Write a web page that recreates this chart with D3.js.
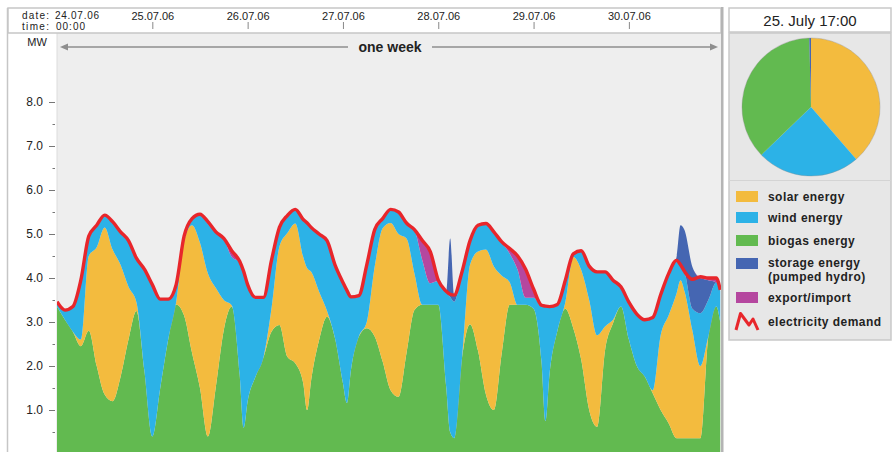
<!DOCTYPE html>
<html>
<head>
<meta charset="utf-8">
<script src="https://cdn.jsdelivr.net/npm/d3@7"></script>
<style>
  body { margin: 0; background: #fff; }
  svg { display: block; font-family: "Liberation Sans", Arial, Helvetica, sans-serif; }
</style>
</head>
<body>
<svg id="chart" width="894" height="452"></svg>
<script>
// Hours since 24.07.06 00:00 (one row per day)
const hours = [
  0,2,4,6,8,10,12,14,16,18,20,22,
  24,26,28,30,32,34,36,38,40,42,44,46,47,
  48,50,52,54,56,58,60,62,63,64,66,68,70,
  72,73,74,76,78,80,82,84,86,88,90,92,94,
  96,98,99,100,102,104,106,108,110,112,114,116,118,
  120,122,123,124,126,128,130,132,134,136,138,140,142,
  144,146,148,150,152,154,156,157,158,160,162,164,166,167];

// Generation in MW, stacked bottom to top
const biogas = [
  3.35,3.05,2.78,2.45,2.8,2.0,1.35,1.2,1.75,2.6,3.25,1.9,
  0.4,1.5,2.6,3.4,3.15,2.3,1.5,0.4,1.53,2.82,3.35,1.8,0.6,
  1.2,1.76,2.2,2.78,2.93,2.21,2.06,1.61,1.0,1.68,2.59,3.12,2.63,
  1.61,1.16,1.9,2.67,2.86,2.67,2.1,1.45,1.3,2.29,3.27,3.39,3.39,
  3.39,1.53,0.5,0.36,2.2,2.95,2.35,1.35,1.0,2.3,3.39,3.39,3.39,
  3.3,2.1,0.75,1.8,2.8,3.3,2.86,2.14,1.0,0.62,2.36,2.97,3.35,
  2.6,2.0,1.76,1.38,1.0,0.7,0.36,0.36,0.36,0.36,0.36,2.67,3.35,3.0];
const solar = [
  0,0,0,0.15,1.7,2.7,3.8,3.45,2.55,1.2,0.2,0,
  0,0,0,0.05,1.7,2.9,3.3,3.7,2.24,0.68,0.03,0,0,
  0,0,0,0.52,1.78,2.81,3.18,2.87,3.22,2.46,1.1,0.13,0,
  0,0,0,0,0.14,1.59,3.03,3.8,3.7,2.61,0.83,0,0,
  0,0,0,0,0,1.35,2.25,3.3,3.26,1.75,0.51,0,0,
  0,0,0,0,0,0.15,1.62,2.04,2.5,2.08,0.54,0.08,0,
  0,0,0,0.07,1.7,2.45,3.29,3.59,3.34,2.44,1.64,0,0,0];
const wind = [
  0.09,0.2,0.55,1.33,0.43,0.48,0.26,0.61,0.73,1.03,0.98,2.28,
  3.43,2.0,0.9,0.38,0.08,0.13,0.63,1.12,1.26,1.38,1.1,2.56,3.53,
  2.63,1.78,1.34,1.08,0.42,0.38,0.3,0.83,1.01,0.99,1.29,1.58,1.65,
  2.27,2.54,1.65,0.91,1.28,0.82,0.2,0.29,0.48,0.33,0.98,1.01,0.49,
  0.54,2.15,3.07,3.1,1.93,0.53,0.58,0.57,0.77,0.75,0.65,0.79,0.16,
  0.25,1.26,2.59,1.53,0.58,0.48,0.05,0.42,0.75,1.42,1.22,0.88,0.43,
  0.83,1.16,1.27,1.63,0.9,0.93,0.73,0.33,0.44,0.5,1.2,0.83,0.55,0.71];
const storage = [
  0,0,0,0,0,0,0,0,0,0,0,0,
  0,0,0,0,0,0,0,0.06,0,0,0,0,0,
  0,0,0,0,0,0,0,0,0,0,0,0,0,
  0,0,0,0,0,0,0,0,0,0,0,0,0,
  0,0,1.33,0.15,0,0,0,0,0,0,0,0,0,
  0,0,0,0,0,0,0,0,0,0,0,0,0,
  0,0,0,0,0,0,0.1,0.92,0.95,0.95,0.8,0.45,0,0];
const exportImport = [
  0,0,0,0,0,0,0,0,0,0,0,0,
  0,0,0,0,0,0,0,0,0,0,0.12,0,0,
  0,0,0,0,0,0,0,0,0,0,0,0,0,
  0,0,0,0,0,0,0,0,0,0,0,0.45,0.7,
  0,0,0,0,0,0,0,0,0,0,0.1,0.3,0.63,
  0.18,0,0,0,0,0,0,0,0,0,0,0,0,
  0,0,0,0,0,0,0,0,0,0,0,0.05,0.08,0];
// Electricity demand in MW
const demand = [
  3.46,3.27,3.35,3.95,4.95,5.2,5.43,5.28,5.05,4.85,4.45,4.2,
  3.85,3.52,3.52,3.85,4.95,5.35,5.45,5.28,5.05,4.9,4.62,4.38,4.15,
  3.85,3.56,3.56,4.4,5.15,5.42,5.56,5.33,5.25,5.15,5.0,4.85,4.3,
  3.9,3.72,3.57,3.6,4.3,5.1,5.35,5.56,5.5,5.25,5.1,4.85,4.6,
  3.95,3.7,3.63,3.61,4.15,4.85,5.2,5.24,5.05,4.82,4.67,4.5,4.2,
  3.75,3.38,3.36,3.35,3.4,3.95,4.55,4.62,4.27,4.14,4.14,3.95,3.8,
  3.45,3.18,3.05,3.1,3.62,4.1,4.4,4.3,4.15,3.97,4.03,4.0,4.0,3.73];

const dateLabels = ["24.07.06","25.07.06","26.07.06","27.07.06","28.07.06","29.07.06","30.07.06"];
const yTicks = [1,2,3,4,5,6,7,8];
const yMinorTicks = [0.5,1.5,2.5,3.5,4.5,5.5,6.5,7.5];

// Snapshot for 25. July 17:00 (MW): solar, wind, biogas, storage
const snapshotTitle = "25. July 17:00";
const snapshotKeys = ["solar","wind","biogas","storage"];
const snapshotValues = [1.92,1.20,1.83,0.02];

const seriesKeys = ["biogas","solar","wind","storage","export"];
const colors = {
  solar: "#f3bb3e", wind: "#2cb2e7", biogas: "#62ba50",
  storage: "#4566b2", export: "#b5479f", demand: "#e8262b"
};
const legendItems = [
  {key: "solar", lines: ["solar energy"]},
  {key: "wind", lines: ["wind energy"]},
  {key: "biogas", lines: ["biogas energy"]},
  {key: "storage", lines: ["storage energy", "(pumped hydro)"]},
  {key: "export", lines: ["export/import"]},
  {key: "demand", lines: ["electricity demand"]}
];

const svg = d3.select("#chart");

// ---- frame ----
svg.append("rect").attr("x", 8).attr("y", 33).attr("width", 49).attr("height", 419).attr("fill", "#fff");
svg.append("rect").attr("x", 57).attr("y", 33).attr("width", 664).attr("height", 419).attr("fill", "#eeeeee");
svg.append("line").attr("x1", 7.5).attr("x2", 7.5).attr("y1", 8).attr("y2", 452)
  .attr("stroke", "#c6c6c6").attr("stroke-width", 1.5);
svg.append("line").attr("x1", 57).attr("x2", 57).attr("y1", 33).attr("y2", 452)
  .attr("stroke", "#dcdcdc").attr("stroke-width", 1);
svg.append("rect").attr("x", 8).attr("y", 8).attr("width", 713).attr("height", 25)
  .attr("fill", "#fff").attr("stroke", "#c6c6c6").attr("stroke-width", 1.5);
svg.append("rect").attr("x", 721).attr("y", 7).attr("width", 2.5).attr("height", 445).attr("fill", "#b4b4b4");

// ---- scales ----
const x = d3.scaleLinear().domain([0, 168]).range([57, 724.2]);
const y = d3.scaleLinear().domain([0, 9]).range([454, 58]);

svg.append("clipPath").attr("id", "plotClip")
  .append("rect").attr("x", 57).attr("y", 33).attr("width", 664).attr("height", 419);

// ---- stacked areas ----
const rows = hours.map((h, i) => ({
  h, biogas: biogas[i], solar: solar[i], wind: wind[i], storage: storage[i], export: exportImport[i]
}));
const stacked = d3.stack().keys(seriesKeys)(rows);
const area = d3.area()
  .curve(d3.curveMonotoneX)
  .x(d => x(d.data.h))
  .y0(d => y(d[0]))
  .y1(d => y(d[1]));

const plot = svg.append("g").attr("clip-path", "url(#plotClip)");
plot.selectAll("path.layer").data(stacked).join("path")
  .attr("class", "layer")
  .attr("fill", d => colors[d.key])
  .attr("d", area);

// demand line
const line = d3.line().curve(d3.curveMonotoneX).x((d, i) => x(hours[i])).y(d => y(d));
plot.append("path").datum(demand)
  .attr("fill", "none").attr("stroke", colors.demand)
  .attr("stroke-width", 3.4).attr("stroke-linejoin", "round")
  .attr("d", line);

// ---- y axis ----
const yAxis = svg.append("g").attr("transform", "translate(55,0)")
  .call(d3.axisLeft(y).tickValues(yTicks).tickSize(6).tickPadding(6).tickFormat(d3.format(".1f")));
yAxis.select(".domain").remove();
yAxis.selectAll(".tick line").attr("stroke", "#777");
yAxis.selectAll(".tick text").attr("fill", "#222").attr("font-size", 12).attr("font-family", null);

const yMinor = svg.append("g").attr("transform", "translate(55,0)")
  .call(d3.axisLeft(y).tickValues(yMinorTicks).tickSize(2.5).tickFormat(""));
yMinor.select(".domain").remove();
yMinor.selectAll(".tick line").attr("stroke", "#777");

svg.append("text").attr("x", 37).attr("y", 46).attr("text-anchor", "middle")
  .attr("font-size", 11).attr("fill", "#222").text("MW");

// ---- date axis in header ----
const dayHours = dateLabels.map((d, i) => i * 24);
const xAxis = svg.append("g").attr("transform", "translate(0,29)")
  .call(d3.axisTop(x).tickValues(dayHours.slice(1)).tickSize(7).tickPadding(2)
    .tickFormat((d) => dateLabels[d / 24]));
xAxis.select(".domain").remove();
xAxis.selectAll(".tick line").attr("stroke", "#888");
xAxis.selectAll(".tick text").attr("fill", "#222").attr("font-size", 11).attr("font-family", null);

const hdr = svg.append("g").attr("font-size", 10).attr("fill", "#222");
hdr.append("text").attr("x", 22).attr("y", 19).attr("textLength", 27).text("date:");
hdr.append("text").attr("x", 22).attr("y", 29.5).attr("textLength", 27).text("time:");
hdr.append("text").attr("x", x(dayHours[0]) - 2).attr("y", 19).attr("textLength", 44).text(dateLabels[0]);
hdr.append("text").attr("x", x(dayHours[0]) - 1).attr("y", 29.5).attr("textLength", 29).text("00:00");

// ---- "one week" span arrow ----
const arrowY = 47;
const ax0 = x(0) + 3, ax1 = 718;
const mid = 390;
svg.append("line").attr("x1", ax0 + 5).attr("x2", mid - 42).attr("y1", arrowY).attr("y2", arrowY)
  .attr("stroke", "#8e8e8e").attr("stroke-width", 1.5);
svg.append("line").attr("x1", mid + 42).attr("x2", ax1 - 5).attr("y1", arrowY).attr("y2", arrowY)
  .attr("stroke", "#8e8e8e").attr("stroke-width", 1.5);
svg.append("path").attr("d", `M${ax0},${arrowY} l8,-3.5 l0,7 z`).attr("fill", "#8e8e8e");
svg.append("path").attr("d", `M${ax1},${arrowY} l-8,-3.5 l0,7 z`).attr("fill", "#8e8e8e");
svg.append("text").attr("x", mid).attr("y", 52).attr("text-anchor", "middle")
  .attr("font-size", 14).attr("font-weight", "bold").attr("fill", "#222").text("one week");

// ---- right panel ----
svg.append("rect").attr("x", 729).attr("y", 33).attr("width", 162).attr("height", 307)
  .attr("fill", "#e7e7e7").attr("stroke", "#c9c9c9").attr("stroke-width", 1.5);
svg.append("line").attr("x1", 729).attr("x2", 891).attr("y1", 180.5).attr("y2", 180.5)
  .attr("stroke", "#d4d4d4").attr("stroke-width", 1);
svg.append("rect").attr("x", 729).attr("y", 8).attr("width", 162).attr("height", 24)
  .attr("fill", "#fff").attr("stroke", "#c9c9c9").attr("stroke-width", 1.5);
svg.append("text").attr("x", 810).attr("y", 26).attr("text-anchor", "middle")
  .attr("font-size", 15).attr("fill", "#222").text(snapshotTitle);

// pie
const pie = d3.pie().sort(null).value(d => d.v);
const arc = d3.arc().innerRadius(0).outerRadius(69);
const pieG = svg.append("g").attr("transform", "translate(811,107)");
pieG.selectAll("path").data(pie(snapshotKeys.map((k, i) => ({k, v: snapshotValues[i]})))).join("path")
  .attr("d", arc).attr("fill", d => colors[d.data.k]);
pieG.append("circle").attr("r", 69).attr("fill", "none").attr("stroke", "#8a8a8a").attr("stroke-opacity", 0.35);

// legend
const legendY = [191, 212, 235, 258, 292, 312];
const legend = svg.append("g").attr("font-size", 12).attr("font-weight", "bold")
  .attr("letter-spacing", 0.45).attr("fill", "#222");
legendItems.forEach((item, i) => {
  const top = legendY[i];
  if (item.key === "demand") {
    legend.append("path")
      .attr("d", `M736,330 L740.5,313.5 L749,325 L753,319 L758,330`)
      .attr("fill", "none").attr("stroke", colors.demand).attr("stroke-width", 3)
      .attr("stroke-linejoin", "round");
    legend.append("text").attr("x", 768).attr("y", 325.5).text(item.lines[0]);
  } else {
    legend.append("rect").attr("x", 736).attr("y", top).attr("width", 22).attr("height", 11)
      .attr("fill", colors[item.key]);
    item.lines.forEach((t, j) => {
      legend.append("text").attr("x", 768).attr("y", top + (item.lines.length > 1 ? 8.5 : 10) + j * 14)
        .text(t);
    });
  }
});
</script>
</body>
</html>
